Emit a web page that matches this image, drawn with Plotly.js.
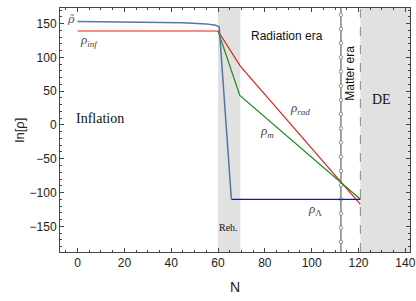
<!DOCTYPE html>
<html>
<head>
<meta charset="utf-8">
<script src="https://cdn.plot.ly/plotly-3.0.1.min.js"></script>
<style>html,body{margin:0;padding:0;background:#fff;}#chart{width:416px;height:301px;}</style>
</head>
<body>
<div id="chart"></div>
<script>
// ρ̃ (inflaton-like total density)
const tildeN   = [0, 27, 45, 55, 59, 60.5, 65.7];
const tildeRho = [153, 152, 151, 149.5, 147.5, 145, -110];
// ρ_inf / ρ_rad
const radN   = [0, 60, 69.5, 120.8];
const radRho = [139, 139, 87, -117.6];
// ρ_m
const matN   = [60, 69.3, 120.8];
const matRho = [139, 43.6, -110];
// ρ_Λ
const lamN   = [65.7, 120.8];
const lamRho = [-110, -110];
// matter-era marker line
const matterEraN = [112.5];
const matterMarksRho = [-173, -152, -131, -110, -89, -68, -47, -26, -5, 16, 37, 58, 79, 100, 121, 142, 163];
// shaded eras
const rehBand = [60, 69.5];
const deBand  = [120.8, 142];
const xTicks = [0, 20, 40, 60, 80, 100, 120, 140];
const yTicks = [-150, -100, -50, 0, 50, 100, 150];

const serif = 'Liberation Serif, DejaVu Serif, serif';
const dserif = 'DejaVu Serif, serif';
const sans = 'Liberation Sans, Arial, sans-serif';

const traces = [
  {x: [matterEraN[0], matterEraN[0]], y: [-400, 400], type:'scatter', mode:'lines',
   line:{color:'#444', width:1}, hoverinfo:'skip', showlegend:false},
  {x: matterMarksRho.map(()=>matterEraN[0]), y: matterMarksRho, type:'scatter', mode:'markers',
   marker:{symbol:'circle', size:3.5, color:'#fff', line:{width:0.8, color:'#777'}}, showlegend:false},
  {x: radN, y: radRho, type:'scatter', mode:'lines', line:{color:'#e3231c', width:1.2}, showlegend:false},
  {x: matN, y: matRho, type:'scatter', mode:'lines', line:{color:'#1e8c1e', width:1.2}, showlegend:false},
  {x: lamN, y: lamRho, type:'scatter', mode:'lines', line:{color:'#1c1c7c', width:1.2}, showlegend:false},
  {x: tildeN, y: tildeRho, type:'scatter', mode:'lines', line:{color:'#4f76ab', width:1.5}, showlegend:false}
];

const axisCommon = {
  showgrid:false, zeroline:false, showline:true, linecolor:'#444', linewidth:1,
  mirror:'allticks', ticks:'inside', ticklen:4, tickcolor:'#444', tickwidth:1,
  tickfont:{family:sans, size:12, color:'#222'}
};

const layout = {
  width:416, height:301,
  margin:{l:60, r:6, t:8, b:49},
  paper_bgcolor:'#fff', plot_bgcolor:'#fff',
  xaxis: Object.assign({}, axisCommon, {
    range:[-7.5, 142], tickvals:xTicks,
    minor:{dtick:5, ticks:'inside', ticklen:2, tickcolor:'#444'},
    title:{text:'N', font:{family:sans, size:14, color:'#222'}, standoff:12}
  }),
  yaxis: Object.assign({}, axisCommon, {
    range:[-188, 173], tickvals:yTicks,
    minor:{dtick:10, ticks:'inside', ticklen:2, tickcolor:'#444'},
    title:{text:'ln[ρ]', font:{family:sans, size:13, color:'#222'}, standoff:2}
  }),
  shapes:[
    {type:'rect', xref:'x', yref:'paper', x0:rehBand[0], x1:rehBand[1], y0:0, y1:1,
     fillcolor:'#e1e1e1', line:{width:0}, layer:'below'},
    {type:'rect', xref:'x', yref:'paper', x0:deBand[0], x1:deBand[1], y0:0, y1:1,
     fillcolor:'#e1e1e1', line:{width:0}, layer:'below'},
    {type:'line', xref:'x', yref:'paper', x0:deBand[0], x1:deBand[0], y0:0, y1:1,
     line:{color:'#888', width:1, dash:'dash'}}
  ],
  annotations:[
    {x:-0.3, y:156, xref:'x', yref:'y', text:'<i>ρ̃</i>', showarrow:false, xanchor:'right',
     font:{family:dserif, size:11, color:'#555'}},
    {x:0, y:125, xref:'x', yref:'y', text:'<i>ρ<sub>inf</sub></i>', showarrow:false, xanchor:'left',
     font:{family:serif, size:13, color:'#444'}},
    {x:9.5, y:10, xref:'x', yref:'y', text:'Inflation', showarrow:false,
     font:{family:serif, size:14, color:'#111'}},
    {x:89.5, y:132, xref:'x', yref:'y', text:'Radiation era', showarrow:false,
     font:{family:sans, size:12, color:'#111'}},
    {x:116.3, y:77, xref:'x', yref:'y', text:'Matter era', showarrow:false, textangle:-90,
     font:{family:sans, size:12, color:'#111'}},
    {x:129.8, y:37, xref:'x', yref:'y', text:'DE', showarrow:false,
     font:{family:serif, size:14, color:'#111'}},
    {x:64.5, y:-152, xref:'x', yref:'y', text:'Reh.', showarrow:false,
     font:{family:serif, size:10, color:'#111'}},
    {x:94.8, y:24, xref:'x', yref:'y', text:'<i>ρ<sub>rad</sub></i>', showarrow:false,
     font:{family:serif, size:13, color:'#444'}},
    {x:80.8, y:-10, xref:'x', yref:'y', text:'<i>ρ<sub>m</sub></i>', showarrow:false,
     font:{family:serif, size:13, color:'#444'}},
    {x:101.5, y:-125, xref:'x', yref:'y', text:'<i>ρ</i><sub>Λ</sub>', showarrow:false,
     font:{family:serif, size:13, color:'#444'}}
  ]
};

Plotly.newPlot('chart', traces, layout, {staticPlot:true, displayModeBar:false});
</script>
</body>
</html>
